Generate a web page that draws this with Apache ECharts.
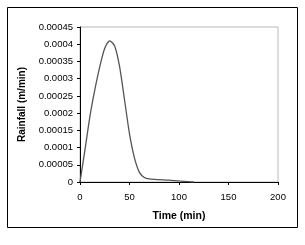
<!DOCTYPE html>
<html>
<head>
<meta charset="utf-8">
<script src="https://cdn.jsdelivr.net/npm/echarts@6/dist/echarts.min.js"></script>
<style>
  html, body { margin: 0; padding: 0; background: #fff; }
  #chart { width: 305px; height: 245px; }
</style>
</head>
<body>
<div id="chart"></div>
<script>
// time (min) and rainfall (m/min)
var timeMin = [0, 5, 10, 15, 20, 25, 30, 35, 40, 45, 50, 55, 60, 65, 70, 80, 90, 100, 110, 115]
var rainfall = [0, 0.000093, 0.00019, 0.000268, 0.000335, 0.000388, 0.00041, 0.000395, 0.000335, 0.000238,
    0.00014, 0.00007, 0.000028, 0.000013, 0.0000088, 0.0000068, 0.0000055, 0.000003, 0.000001, 0]
var xTicks = [0, 50, 100, 150, 200]
var yTicks = [0, 0.00005, 0.0001, 0.00015, 0.0002, 0.00025, 0.0003, 0.00035, 0.0004, 0.00045]

var points = []
for (var i = 0; i < timeMin.length; i++) {
    points.push([timeMin[i], rainfall[i]])
}

var chart = echarts.init(document.getElementById("chart"), null, { renderer: "canvas" })
var font = "Liberation Sans, Arial, sans-serif"

var option = {
    animation: false,
    backgroundColor: "#fff",
    graphic: [{
        type: "rect",
        shape: { x: 7.5, y: 7.5, width: 290, height: 220 },
        style: { fill: "none", stroke: "#000", lineWidth: 1 }
    }],
    grid: {
        left: 80, right: 27, top: 27, bottom: 63,
        show: true,
        borderColor: "#b8b8b8",
        borderWidth: 1
    },
    xAxis: {
        type: "value",
        min: xTicks[0],
        max: xTicks[xTicks.length - 1],
        interval: 50,
        name: "Time (min)",
        nameLocation: "middle",
        nameGap: 29,
        nameTextStyle: { fontFamily: font, fontSize: 10.5, fontWeight: "bold", color: "#000" },
        axisLine: { lineStyle: { color: "#000", width: 1 } },
        axisTick: { show: true, length: 3, lineStyle: { color: "#000" } },
        axisLabel: { fontFamily: font, fontSize: 9.5, color: "#000", margin: 10 },
        splitLine: { show: false }
    },
    yAxis: {
        type: "value",
        min: yTicks[0],
        max: yTicks[yTicks.length - 1],
        interval: 0.00005,
        name: "Rainfall (m/min)",
        nameLocation: "middle",
        nameGap: 53,
        nameTextStyle: { fontFamily: font, fontSize: 10, fontWeight: "bold", color: "#000" },
        axisLine: { show: true, lineStyle: { color: "#000", width: 1 } },
        axisTick: { show: true, length: 3, lineStyle: { color: "#000" } },
        axisLabel: {
            fontFamily: font, fontSize: 9.5, color: "#000", margin: 7,
            formatter: function (v) {
                var idx = Math.round(v / 0.00005)
                var s = yTicks[idx]
                if (s === 0) return "0"
                return s.toFixed(5).replace(/0+$/, "")
            }
        },
        splitLine: { show: false }
    },
    series: [{
        type: "line",
        data: points,
        smooth: 0.25,
        showSymbol: false,
        lineStyle: { color: "#555", width: 1.3 }
    }]
}
chart.setOption(option)
</script>
</body>
</html>
